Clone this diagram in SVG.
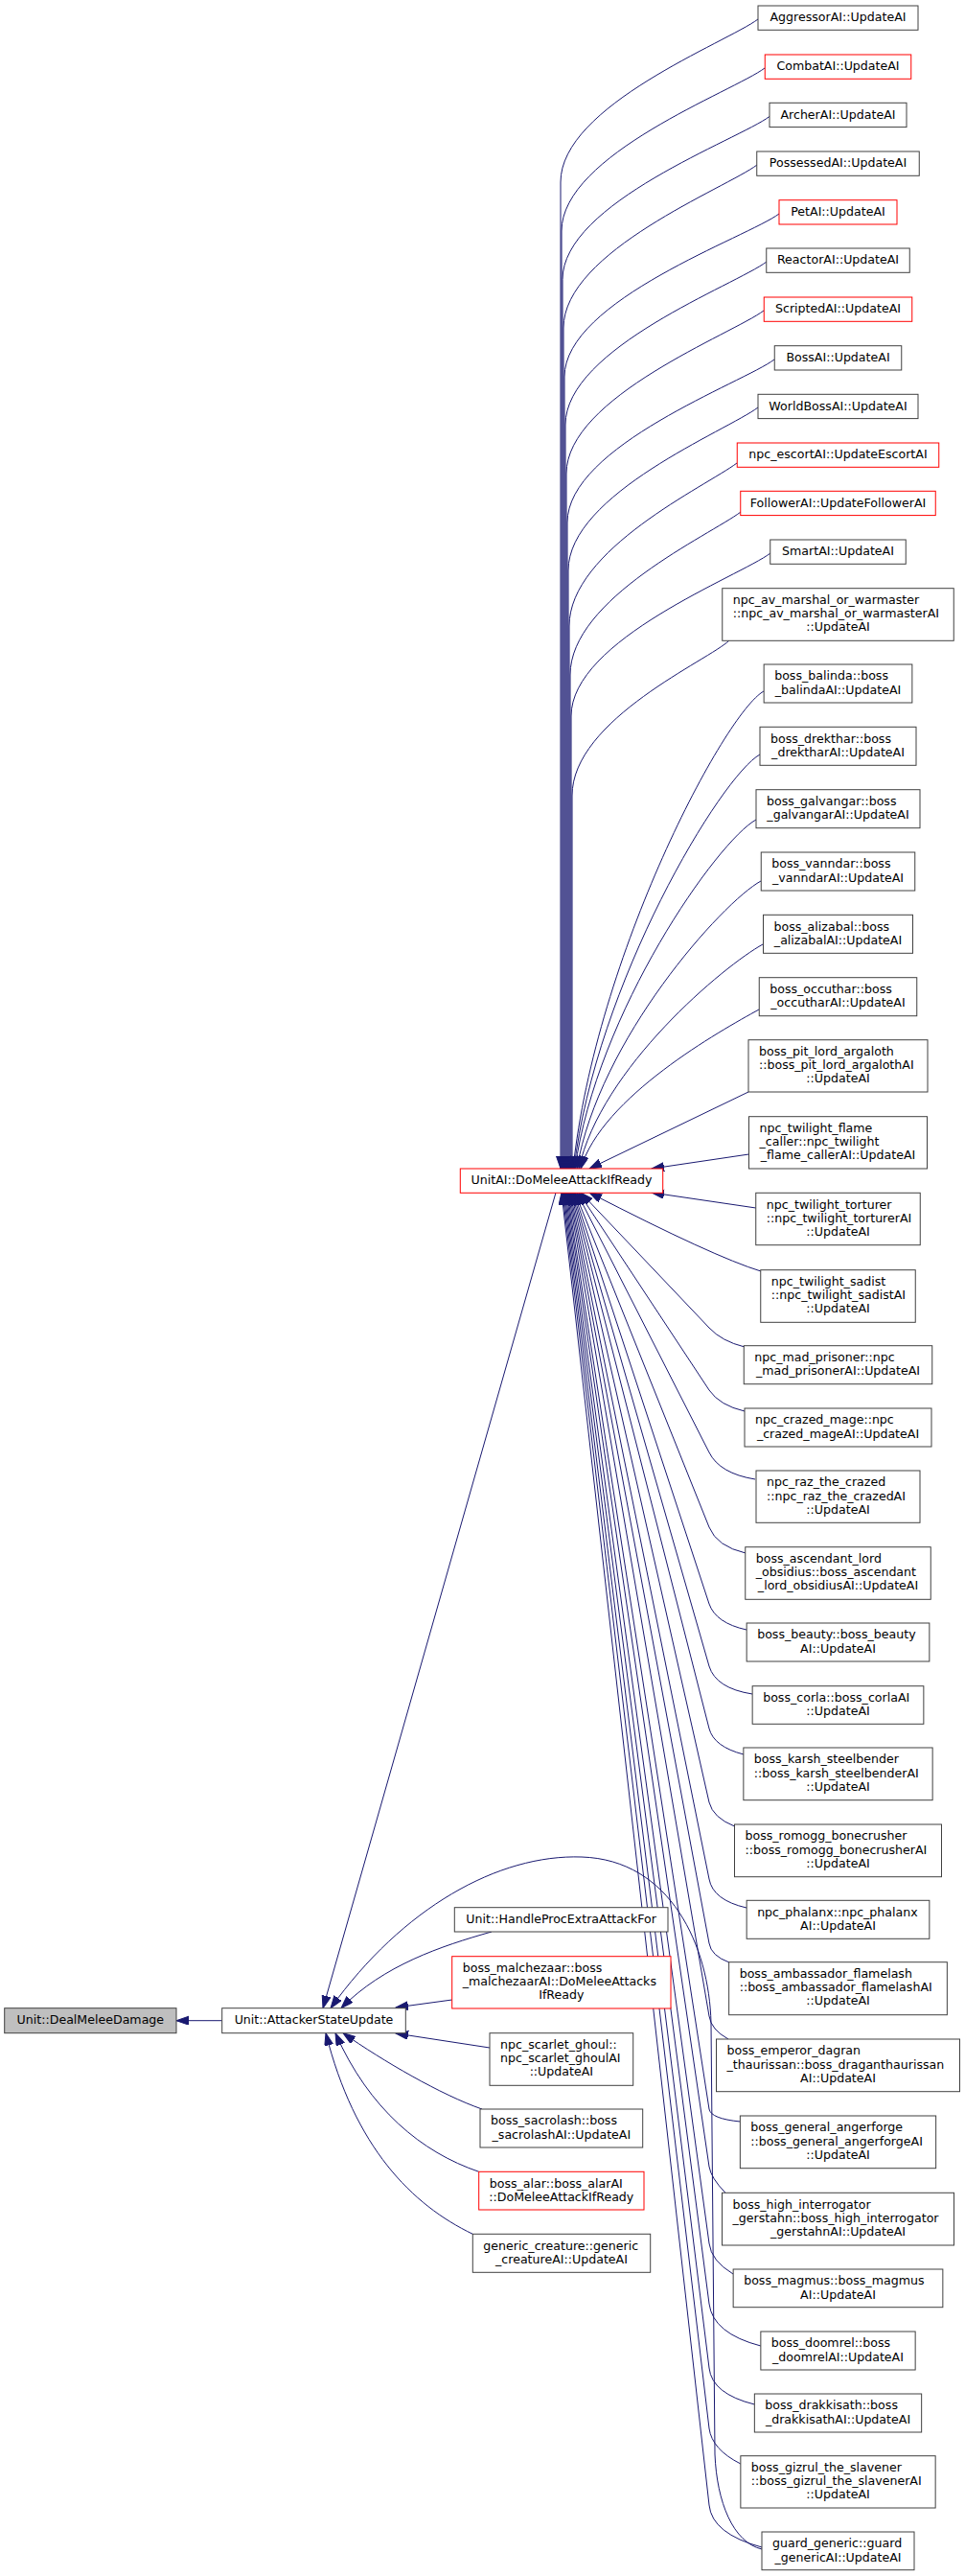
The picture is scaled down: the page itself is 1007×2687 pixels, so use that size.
<svg xmlns="http://www.w3.org/2000/svg" width="1007" height="2687" viewBox="0 0 1007 2687">
<style>
rect{fill:#fff;stroke:#404040;stroke-width:1}
.r rect{stroke:#ff0000}
.g rect{fill:#bfbfbf}
text{font-family:'DejaVu Sans','Liberation Sans',sans-serif;font-size:12.6px;fill:#000}
.m{text-anchor:middle}
.s{text-anchor:start}
#edges path{fill:none;stroke:#191970;stroke-width:1;marker-end:url(#ah)}
</style>
<defs>
<marker id="ah" markerWidth="14" markerHeight="10" refX="13" refY="4.5" orient="auto" markerUnits="userSpaceOnUse"><path d="M0,0 L13,4.5 L0,9 Z" fill="#191970" stroke="#191970" stroke-width="1"/></marker>
</defs>
<rect x="0" y="0" width="1007" height="2687" style="fill:#fff;stroke:none"/>
<g id="edges">
<path d="M791,20 C759,44 585,110 585,190 L585,1219"/>
<path d="M798,71 C766,95 586,161 586,241 L586,1219"/>
<path d="M803,121.5 C771,145.5 587,211.5 587,291.5 L587,1219"/>
<path d="M790,172 C758,196 588,262 588,342 L588,1219"/>
<path d="M813,223 C781,247 589,313 589,393 L589,1219"/>
<path d="M800,273 C768,297 590,363 590,443 L590,1219"/>
<path d="M797,324 C765,348 591,414 591,494 L591,1219"/>
<path d="M808,375 C776,399 592,465 592,545 L592,1219"/>
<path d="M791,425 C759,449 593,515 593,595 L593,1219"/>
<path d="M769,483 C737,507 594,573 594,653 L594,1219"/>
<path d="M773,534 C741,558 595,624 595,704 L595,1219"/>
<path d="M804,577 C772,601 596,667 596,747 L596,1219"/>
<path d="M761,668 C741,688 597,750 597,830 L597,1219"/>
<path d="M797,721 C757,743 622,995 598,1219"/>
<path d="M793,787 C753,809 622,1025 599,1219"/>
<path d="M789,855 C749,877 623,1055 600,1219"/>
<path d="M794,919 C754,941 625,1084 602,1219"/>
<path d="M796,985 C756,1007 627,1114 604,1219"/>
<path d="M792,1053 C752,1075 628,1144 606,1219"/>
<path d="M781,1139 L615,1219"/>
<path d="M781.5,1204 L680,1219"/>
<path d="M788.75,1260 L680,1244"/>
<path d="M794,1326 Q745,1311 615,1244"/>
<path d="M777,1405 Q753,1399 740,1385 L606,1244"/>
<path d="M777,1472 Q751,1466 740,1450 L604,1244"/>
<path d="M788,1543 Q751,1537 740,1515 L602,1244"/>
<path d="M778,1620 Q748,1613 740,1593 L600,1244"/>
<path d="M779,1700 Q747,1693 740,1673 L599,1244"/>
<path d="M785,1767 Q747,1761 740,1738 L598,1244"/>
<path d="M776,1830 Q745,1822 740,1803 L597,1244"/>
<path d="M766.5,1905 Q744,1896 740,1880 L596,1244"/>
<path d="M779,1990 Q744,1982 740,1960 L595,1244"/>
<path d="M761,2047 Q742,2040 740,2027 L594,1244"/>
<path d="M760,2127 Q742,2117 740,2103 L593,1244"/>
<path d="M772.35,2213 Q742,2210 740,2200 L592,1244"/>
<path d="M757,2287.3 Q742,2272 740,2260 L591,1244"/>
<path d="M765,2372 Q742,2358 740,2340 L590,1244"/>
<path d="M793.85,2447 Q744,2434 740,2403 L589,1244"/>
<path d="M787.35,2508 Q743,2497 740,2470 L588,1244"/>
<path d="M772.85,2570 Q743,2555 740,2533 L587,1244"/>
<path d="M795,2657 Q743,2643 740,2613 L586,1244"/>
<path d="M580,1244 L337,2094.7"/>
<path d="M795,2659 C765,2652 748,2610 746,2560 L742,2110 C740,2030 700,1940 607,1937 C520,1934 420,1990 345,2094.7"/>
<path d="M513,2015 C460,2030 400,2050 356,2094.7"/>
<path d="M471.7,2086 L413,2094"/>
<path d="M511,2136 L413,2121"/>
<path d="M503,2200 C460,2185 400,2150 358,2120.7"/>
<path d="M499.7,2265.3 C440,2245 385,2200 350,2120.7"/>
<path d="M493.3,2330.3 C430,2300 370,2240 340,2120.7"/>
<path d="M231.7,2107.7 L184,2107.7"/>
</g>
<g id="n_aggressor"><rect x="791" y="6" width="167" height="25.3"/><text class="m" x="874.5" y="22.3">AggressorAI::UpdateAI</text></g>
<g id="n_combat" class="r"><rect x="798.25" y="57" width="152.5" height="25.3"/><text class="m" x="874.5" y="73.3">CombatAI::UpdateAI</text></g>
<g id="n_archer"><rect x="803" y="107.3" width="143" height="25.3"/><text class="m" x="874.5" y="123.6">ArcherAI::UpdateAI</text></g>
<g id="n_possessed"><rect x="789.75" y="158" width="169.5" height="25.3"/><text class="m" x="874.5" y="174.3">PossessedAI::UpdateAI</text></g>
<g id="n_pet" class="r"><rect x="813" y="208.7" width="123" height="25.3"/><text class="m" x="874.5" y="225">PetAI::UpdateAI</text></g>
<g id="n_reactor"><rect x="799.75" y="259" width="149.5" height="25.3"/><text class="m" x="874.5" y="275.3">ReactorAI::UpdateAI</text></g>
<g id="n_scripted" class="r"><rect x="797.25" y="310" width="154.5" height="25.3"/><text class="m" x="874.5" y="326.3">ScriptedAI::UpdateAI</text></g>
<g id="n_boss"><rect x="808.25" y="360.7" width="132.5" height="25.3"/><text class="m" x="874.5" y="377">BossAI::UpdateAI</text></g>
<g id="n_worldboss"><rect x="791" y="411.3" width="167" height="25.3"/><text class="m" x="874.5" y="427.6">WorldBossAI::UpdateAI</text></g>
<g id="n_escort" class="r"><rect x="769.25" y="462" width="210.5" height="25.3"/><text class="m" x="874.5" y="478.3">npc_escortAI::UpdateEscortAI</text></g>
<g id="n_follower" class="r"><rect x="772.75" y="512.3" width="203.5" height="25.3"/><text class="m" x="874.5" y="528.6">FollowerAI::UpdateFollowerAI</text></g>
<g id="n_smart"><rect x="803.75" y="563" width="141.5" height="25.3"/><text class="m" x="874.5" y="579.3">SmartAI::UpdateAI</text></g>
<g id="n_npc_av"><rect x="753.75" y="613.7" width="241.5" height="54.6"/><text class="s" x="764.75" y="630">npc_av_marshal_or_warmaster</text><text class="s" x="764.75" y="644.2">::npc_av_marshal_or_warmasterAI</text><text class="m" x="874.5" y="658.4">::UpdateAI</text></g>
<g id="n_balinda"><rect x="797.15" y="693" width="154.7" height="40"/><text class="s" x="808.15" y="709.3">boss_balinda::boss</text><text class="m" x="874.5" y="723.5">_balindaAI::UpdateAI</text></g>
<g id="n_drekthar"><rect x="793" y="758.3" width="163" height="40"/><text class="s" x="804" y="774.6">boss_drekthar::boss</text><text class="m" x="874.5" y="788.8">_drektharAI::UpdateAI</text></g>
<g id="n_galvangar"><rect x="789" y="823.7" width="171" height="40"/><text class="s" x="800" y="840">boss_galvangar::boss</text><text class="m" x="874.5" y="854.2">_galvangarAI::UpdateAI</text></g>
<g id="n_vanndar"><rect x="794.25" y="889" width="160.5" height="40"/><text class="s" x="805.25" y="905.3">boss_vanndar::boss</text><text class="m" x="874.5" y="919.5">_vanndarAI::UpdateAI</text></g>
<g id="n_alizabal"><rect x="796.5" y="954.3" width="156" height="40"/><text class="s" x="807.5" y="970.6">boss_alizabal::boss</text><text class="m" x="874.5" y="984.8">_alizabalAI::UpdateAI</text></g>
<g id="n_occuthar"><rect x="792.25" y="1019.7" width="164.5" height="40"/><text class="s" x="803.25" y="1036">boss_occuthar::boss</text><text class="m" x="874.5" y="1050.2">_occutharAI::UpdateAI</text></g>
<g id="n_pit_lord"><rect x="781" y="1084.7" width="187" height="54.3"/><text class="s" x="792" y="1101">boss_pit_lord_argaloth</text><text class="s" x="792" y="1115.2">::boss_pit_lord_argalothAI</text><text class="m" x="874.5" y="1129.4">::UpdateAI</text></g>
<g id="n_flame_caller"><rect x="781.5" y="1164.7" width="186" height="54.3"/><text class="s" x="792.5" y="1181">npc_twilight_flame</text><text class="s" x="792.5" y="1195.2">_caller::npc_twilight</text><text class="m" x="874.5" y="1209.4">_flame_callerAI::UpdateAI</text></g>
<g id="n_torturer"><rect x="788.75" y="1244.3" width="171.5" height="54.4"/><text class="s" x="799.75" y="1260.6">npc_twilight_torturer</text><text class="s" x="799.75" y="1274.8">::npc_twilight_torturerAI</text><text class="m" x="874.5" y="1289">::UpdateAI</text></g>
<g id="n_sadist"><rect x="793.75" y="1324.7" width="161.5" height="54.6"/><text class="s" x="804.75" y="1341">npc_twilight_sadist</text><text class="s" x="804.75" y="1355.2">::npc_twilight_sadistAI</text><text class="m" x="874.5" y="1369.4">::UpdateAI</text></g>
<g id="n_mad_prisoner"><rect x="776.25" y="1403.7" width="196.5" height="40"/><text class="s" x="787.25" y="1420">npc_mad_prisoner::npc</text><text class="m" x="874.5" y="1434.2">_mad_prisonerAI::UpdateAI</text></g>
<g id="n_crazed_mage"><rect x="777" y="1469" width="195" height="40"/><text class="s" x="788" y="1485.3">npc_crazed_mage::npc</text><text class="m" x="874.5" y="1499.5">_crazed_mageAI::UpdateAI</text></g>
<g id="n_raz"><rect x="789" y="1534" width="171" height="54.3"/><text class="s" x="800" y="1550.3">npc_raz_the_crazed</text><text class="s" x="800" y="1564.5">::npc_raz_the_crazedAI</text><text class="m" x="874.5" y="1578.7">::UpdateAI</text></g>
<g id="n_ascendant"><rect x="777.75" y="1613.7" width="193.5" height="54.6"/><text class="s" x="788.75" y="1630">boss_ascendant_lord</text><text class="s" x="788.75" y="1644.2">_obsidius::boss_ascendant</text><text class="m" x="874.5" y="1658.4">_lord_obsidiusAI::UpdateAI</text></g>
<g id="n_beauty"><rect x="779.15" y="1693" width="190.7" height="40"/><text class="s" x="790.15" y="1709.3">boss_beauty::boss_beauty</text><text class="m" x="874.5" y="1723.5">AI::UpdateAI</text></g>
<g id="n_corla"><rect x="785.15" y="1758.7" width="178.7" height="39.6"/><text class="s" x="796.15" y="1775">boss_corla::boss_corlaAI</text><text class="m" x="874.5" y="1789.2">::UpdateAI</text></g>
<g id="n_karsh"><rect x="775.85" y="1823" width="197.3" height="54.7"/><text class="s" x="786.85" y="1839.3">boss_karsh_steelbender</text><text class="s" x="786.85" y="1853.5">::boss_karsh_steelbenderAI</text><text class="m" x="874.5" y="1867.7">::UpdateAI</text></g>
<g id="n_romogg"><rect x="766.5" y="1903" width="216" height="54.7"/><text class="s" x="777.5" y="1919.3">boss_romogg_bonecrusher</text><text class="s" x="777.5" y="1933.5">::boss_romogg_bonecrusherAI</text><text class="m" x="874.5" y="1947.7">::UpdateAI</text></g>
<g id="n_phalanx"><rect x="779.15" y="1982.3" width="190.7" height="40"/><text class="s" x="790.15" y="1998.6">npc_phalanx::npc_phalanx</text><text class="m" x="874.5" y="2012.8">AI::UpdateAI</text></g>
<g id="n_ambassador"><rect x="760.65" y="2046.7" width="227.7" height="55"/><text class="s" x="771.65" y="2063">boss_ambassador_flamelash</text><text class="s" x="771.65" y="2077.2">::boss_ambassador_flamelashAI</text><text class="m" x="874.5" y="2091.4">::UpdateAI</text></g>
<g id="n_emperor"><rect x="747.5" y="2127" width="254" height="54.7"/><text class="s" x="758.5" y="2143.3">boss_emperor_dagran</text><text class="s" x="758.5" y="2157.5">_thaurissan::boss_draganthaurissan</text><text class="m" x="874.5" y="2171.7">AI::UpdateAI</text></g>
<g id="n_angerforge"><rect x="772.35" y="2207" width="204.3" height="54.7"/><text class="s" x="783.35" y="2223.3">boss_general_angerforge</text><text class="s" x="783.35" y="2237.5">::boss_general_angerforgeAI</text><text class="m" x="874.5" y="2251.7">::UpdateAI</text></g>
<g id="n_high_interrogator"><rect x="753.5" y="2287.3" width="242" height="54.7"/><text class="s" x="764.5" y="2303.6">boss_high_interrogator</text><text class="s" x="764.5" y="2317.8">_gerstahn::boss_high_interrogator</text><text class="m" x="874.5" y="2332">_gerstahnAI::UpdateAI</text></g>
<g id="n_magmus"><rect x="765.15" y="2367" width="218.7" height="39.7"/><text class="s" x="776.15" y="2383.3">boss_magmus::boss_magmus</text><text class="m" x="874.5" y="2397.5">AI::UpdateAI</text></g>
<g id="n_doomrel"><rect x="793.85" y="2432" width="161.3" height="40"/><text class="s" x="804.85" y="2448.3">boss_doomrel::boss</text><text class="m" x="874.5" y="2462.5">_doomrelAI::UpdateAI</text></g>
<g id="n_drakkisath"><rect x="787.35" y="2497" width="174.3" height="40"/><text class="s" x="798.35" y="2513.3">boss_drakkisath::boss</text><text class="m" x="874.5" y="2527.5">_drakkisathAI::UpdateAI</text></g>
<g id="n_gizrul"><rect x="772.85" y="2561.7" width="203.3" height="54.3"/><text class="s" x="783.85" y="2578">boss_gizrul_the_slavener</text><text class="s" x="783.85" y="2592.2">::boss_gizrul_the_slavenerAI</text><text class="m" x="874.5" y="2606.4">::UpdateAI</text></g>
<g id="n_guard_generic"><rect x="795" y="2641" width="159" height="39.7"/><text class="s" x="806" y="2657.3">guard_generic::guard</text><text class="m" x="874.5" y="2671.5">_genericAI::UpdateAI</text></g>
<g id="n_unitai" class="r"><rect x="480.3" y="1219" width="211.4" height="25.3"/><text class="m" x="586" y="1235.3">UnitAI::DoMeleeAttackIfReady</text></g>
<g id="n_deal" class="g"><rect x="4.7" y="2094.7" width="179.3" height="26"/><text class="m" x="94.35" y="2111">Unit::DealMeleeDamage</text></g>
<g id="n_attacker"><rect x="231.7" y="2094.7" width="191.6" height="26"/><text class="m" x="327.5" y="2111">Unit::AttackerStateUpdate</text></g>
<g id="n_handleproc"><rect x="474.3" y="1989.7" width="222.7" height="25.3"/><text class="m" x="585.65" y="2006">Unit::HandleProcExtraAttackFor</text></g>
<g id="n_malchezaar" class="r"><rect x="471.7" y="2040.7" width="228.3" height="54.3"/><text class="s" x="482.7" y="2057">boss_malchezaar::boss</text><text class="s" x="482.7" y="2071.2">_malchezaarAI::DoMeleeAttacks</text><text class="m" x="585.85" y="2085.4">IfReady</text></g>
<g id="n_scarlet_ghoul"><rect x="511" y="2120.7" width="149.7" height="54.6"/><text class="s" x="522" y="2137">npc_scarlet_ghoul::</text><text class="s" x="522" y="2151.2">npc_scarlet_ghoulAI</text><text class="m" x="585.85" y="2165.4">::UpdateAI</text></g>
<g id="n_sacrolash"><rect x="501" y="2200" width="169.7" height="40"/><text class="s" x="512" y="2216.3">boss_sacrolash::boss</text><text class="m" x="585.85" y="2230.5">_sacrolashAI::UpdateAI</text></g>
<g id="n_alar" class="r"><rect x="499.7" y="2265.3" width="172.3" height="39.7"/><text class="s" x="510.7" y="2281.6">boss_alar::boss_alarAI</text><text class="m" x="585.85" y="2295.8">::DoMeleeAttackIfReady</text></g>
<g id="n_generic_creature"><rect x="493.3" y="2330.3" width="185.4" height="40"/><text class="s" x="504.3" y="2346.6">generic_creature::generic</text><text class="m" x="586" y="2360.8">_creatureAI::UpdateAI</text></g>
</svg>
